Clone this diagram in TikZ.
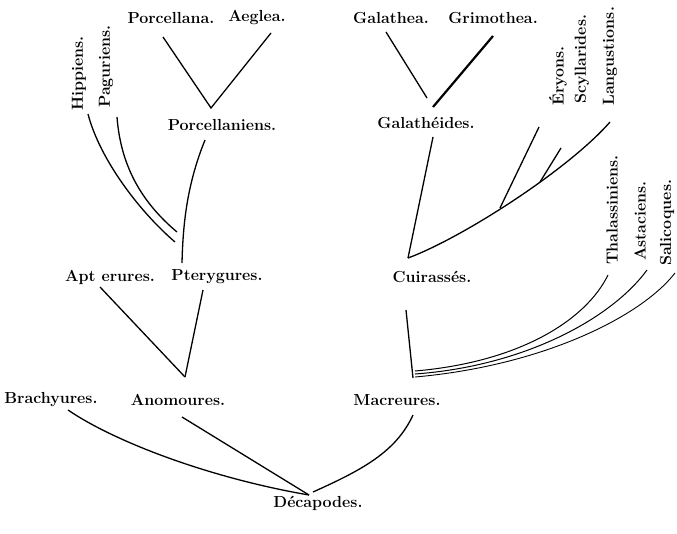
\documentclass[tikz,border=0pt]{standalone}
\usepackage{fontspec}
\usepackage{tikz}
\tikzset{
  taxon/.style={font=\fontsize{16}{19}\selectfont\bfseries, inner sep=0pt},
  verticale/.style={taxon, rotate=90, anchor=west},
  ramo/.style={line width=1.3pt},
}

\begin{document}
\begin{tikzpicture}[x=1pt, y=-1pt]
\useasboundingbox (0,0) rectangle (677,533);
% Porcellaniens, in alto a sinistra
\node[taxon] (porcellana) at (171,18) {Porcellana.};
\node[taxon] (aeglea) at (257,18) {Aeglea.};
\node[taxon] (porcellaniens) at (222,125) {Porcellaniens.};
\coordinate (porcA) at (163,37);
\coordinate (aegA) at (271,33);
\coordinate (porcJ) at (211,108);
\draw[ramo] (porcA) -- (porcJ) -- (aegA);
% Hippiens e Paguriens
\node[verticale] (hippiens) at (79,111) {Hippiens.};
\node[verticale] (paguriens) at (106,108) {Paguriens.};
\coordinate (hipA) at (88,114);
\coordinate (pagA) at (117,117);
\coordinate (hipB) at (175,242);
\coordinate (pagB) at (177,232);
\draw[ramo] (hipA) .. controls (100,160) and (140,212) .. (hipB);
\draw[ramo] (pagA) .. controls (121,170) and (145,205) .. (pagB);
% Pterygures
\node[taxon] (apterures) at (110,277) {Apt erures.};
\node[taxon] (pterygures) at (217,277) {Pterygures.};
\coordinate (pteA) at (205,140);
\coordinate (pteJ) at (182,263);
\draw[ramo] (pteA) .. controls (188,182) and (183,220) .. (pteJ);
% Anomoures
\node[taxon] (anomoures) at (178,400) {Anomoures.};
\node[taxon] (brachyures) at (51,400) {Brachyures.};
\coordinate (aptA) at (100,287);
\coordinate (ptyA) at (203,290);
\coordinate (anoJ) at (185,377);
\draw[ramo] (aptA) -- (anoJ);
\draw[ramo] (ptyA) -- (anoJ);
% Galatheides, in alto a destra
\node[taxon] (galathea) at (391,18) {Galathea.};
\node[taxon] (grimothea) at (493,18) {Grimothea.};
\node[taxon] (galatheides) at (426,123) {Galathéides.};
\coordinate (galA) at (386,32);
\coordinate (galJ) at (427,98);
\coordinate (griA) at (493,36);
\coordinate (griJ) at (433,107);
\draw[ramo] (galA) -- (galJ);
\draw[line width=2.2pt] (griA) -- (griJ);
% Eryons, Scyllarides, Langustions
\node[verticale] (eryons) at (558,106) {Éryons.};
\node[verticale] (scyllarides) at (582,104) {Scyllarides.};
\node[verticale] (langustions) at (610,106) {Langustions.};
\coordinate (cuiJ) at (408,258);
\coordinate (gldA) at (433,137);
\coordinate (lanA) at (610,122);
\coordinate (eryA) at (539,127);
\coordinate (eryB) at (500,208);
\coordinate (scyA) at (561,148);
\coordinate (scyB) at (540,182);
\draw[ramo] (gldA) -- (cuiJ);
\draw[ramo] (cuiJ) .. controls (462,238) and (568,170) .. (lanA);
\draw[ramo] (eryA) -- (eryB);
\draw[ramo] (scyA) -- (scyB);
% Cuirasses
\node[taxon] (cuirasses) at (432,277) {Cuirassés.};
% Thalassiniens, Astaciens, Salicoques
\node[verticale] (thalassiniens) at (612,265) {Thalassiniens.};
\node[verticale] (astaciens) at (640,261) {Astaciens.};
\node[verticale] (salicoques) at (667,266) {Salicoques.};
\coordinate (cuiA) at (406,310);
\coordinate (macJ) at (413,378);
\coordinate (thaJ) at (415,371);
\coordinate (astJ) at (415,374);
\coordinate (salJ) at (415,377);
\coordinate (thaA) at (608,275);
\coordinate (astA) at (647,270);
\coordinate (salA) at (675,273);
\draw[ramo] (cuiA) -- (macJ);
\draw[line width=1pt] (thaJ) .. controls (520,362) and (586,320) .. (thaA);
\draw[line width=1pt] (astJ) .. controls (525,366) and (612,318) .. (astA);
\draw[line width=0.9pt] (salJ) .. controls (540,366) and (640,318) .. (salA);
% Macreures e Decapodes
\node[taxon] (macreures) at (397,400) {Macreures.};
\node[taxon] (decapodes) at (318,503) {Décapodes.};
\coordinate (braA) at (68,410);
\coordinate (anoA) at (182,417);
\coordinate (macA) at (413,415);
\coordinate (decJ) at (309,495);
\draw[ramo] (braA) .. controls (115,442) and (210,478) .. (decJ);
\draw[ramo] (anoA) -- (decJ);
\draw[ramo] (macA) .. controls (396,452) and (362,470) .. (313,492);
\end{tikzpicture}
\end{document}
